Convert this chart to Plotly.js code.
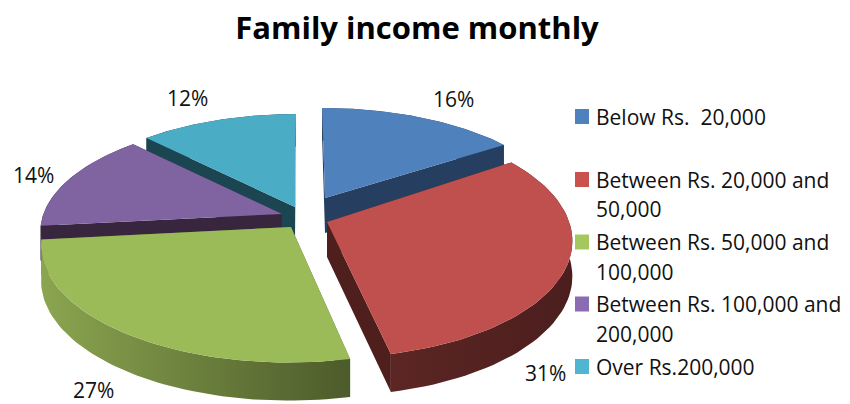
<!DOCTYPE html>
<html>
<head>
<meta charset="utf-8">
<script src="https://cdn.plot.ly/plotly-3.0.0.min.js"></script>
<style>html,body{margin:0;padding:0;background:#fff}</style>
</head>
<body>
<div id="PlotDiv" style="width:850px;height:404px"></div>
<script>
var categories = ['Below Rs. 20,000', 'Between Rs. 20,000 and 50,000', 'Between Rs. 50,000 and 100,000',
  'Between Rs. 100,000 and 200,000', 'Over Rs.200,000'];
// the labels show them rounded
var shares = [15.6, 31.0, 26.7, 14.4, 12.3];
var legendLines = [['Below Rs.  20,000'], ['Between Rs. 20,000 and', '50,000'], ['Between Rs. 50,000 and', '100,000'],
  ['Between Rs. 100,000 and', '200,000'], ['Over Rs.200,000']];

var topColors = ['#4f81bd', '#c0504d', '#9bbb59', '#8064a2', '#4bacc6'];
var swatchColors = ['#4f81bd', '#c9524f', '#a5c85e', '#8a6cb0', '#4fb5d0'];
var wallColors = ['#263f60', '#4f1f1e', '#4e5e2c', '#38263f', '#1c4552'];
var rimFrom = ['#263f60', '#5c2624', '#8ba550', '#38263f', '#1c4552'];
var rimTo = ['#263f60', '#4b1e1d', '#4c5b2a', '#38263f', '#1c4552'];

// fake 3d: tilted disc with a bit of perspective, pixels on the hidden axes
var apexX = [325, 327, 291, 282, 295];
var apexY = [198, 222, 227, 214, 207];
var scaleA = [0.975, 1.005, 1.025, 0.99, 0.98];
var scaleB = [0.9, 1.01, 1.01, 0.94, 0.93];
var A = 241, B = 114.6, K = 0.146, VPX = 303, DEPTH = 35;
var drawOrder = [4, 0, 3, 1, 2];

function project(i, th) {
  var u = Math.sin(th), v = Math.cos(th), w = 1 + K * v;
  return {
    x: apexX[i] + (A * scaleA[i] * u + (VPX - apexX[i]) * K * v) / w,
    y: apexY[i] - B * scaleB[i] * v / w,
    d: DEPTH / (1 + 0.08 * v)
  };
}

var total = shares.reduce(function (a, b) { return a + b; }, 0);
var angles = [0];
for (var i = 0; i < shares.length; i++) {
  angles.push(angles[i] + shares[i] / total * 2 * Math.PI);
}

function poly(xs, ys, name, color) {
  return { type: 'scatter', mode: 'lines', x: xs, y: ys, fill: 'toself', fillcolor: color,
    line: { width: 0 }, name: name, hoverinfo: 'name', showlegend: false };
}

var traces = [];
drawOrder.forEach(function (i) {
  var arc = [];
  for (var n = 0; n <= 60; n++) {
    arc.push(project(i, angles[i] + (angles[i + 1] - angles[i]) * n / 60));
  }
  var first = arc[0], last = arc[60];
  var ax = apexX[i], ay = apexY[i];

  // radial faces
  [first, last].forEach(function (p) {
    traces.push(poly([ax, p.x, p.x, ax, ax], [ay, p.y, p.y + p.d, ay + DEPTH, ay], categories[i], wallColors[i]));
  });

  // outer rim
  var rx = [], ry = [];
  arc.forEach(function (p) { rx.push(p.x); ry.push(p.y); });
  arc.slice().reverse().forEach(function (p) { rx.push(p.x); ry.push(p.y + p.d); });
  var rim = poly(rx, ry, categories[i], wallColors[i]);
  rim.fillgradient = { type: 'horizontal', colorscale: [[0, rimFrom[i]], [1, rimTo[i]]] };
  traces.push(rim);

  // top
  var tx = [ax], ty = [ay];
  arc.forEach(function (p) { tx.push(p.x); ty.push(p.y); });
  tx.push(ax); ty.push(ay);
  traces.push(poly(tx, ty, categories[i], topColors[i]));
});

var FONT = '"Open Sans", sans-serif';
var annotations = [], shapes = [];
var labelX = [453, 545, 93, 33, 187];
var labelY = [99, 373, 389.5, 175, 98];
shares.forEach(function (s, i) {
  annotations.push({ x: labelX[i], y: labelY[i], xref: 'x', yref: 'y', text: Math.round(s) + '%', showarrow: false,
    xanchor: 'center', yanchor: 'middle', font: { family: FONT, size: 21, color: '#111' } });
});

var legendY = [116.5, 179.5, 242, 304, 366.5];
legendLines.forEach(function (lines, i) {
  shapes.push({ type: 'rect', xref: 'x', yref: 'y', x0: 575, x1: 589, y0: legendY[i] - 7.5, y1: legendY[i] + 7.5,
    fillcolor: swatchColors[i], line: { width: 0 } });
  lines.forEach(function (t, n) {
    annotations.push({ x: 594, y: legendY[i] + n * 29.5, xref: 'x', yref: 'y', text: t, showarrow: false,
      xanchor: 'left', yanchor: 'middle', font: { family: FONT, size: 21, color: '#111' } });
  });
});

var layout = {
  width: 850,
  height: 404,
  margin: { l: 0, r: 0, t: 0, b: 0 },
  paper_bgcolor: '#fff',
  plot_bgcolor: '#fff',
  showlegend: false,
  title: { text: '<b>Family income monthly</b>', x: 417 / 850, xanchor: 'center', y: 1 - 28 / 404, yanchor: 'middle',
    font: { family: FONT, size: 31, color: '#000' } },
  xaxis: { range: [0, 850], visible: false, fixedrange: true },
  yaxis: { range: [404, 0], visible: false, fixedrange: true },
  annotations: annotations,
  shapes: shapes
};

Plotly.newPlot('PlotDiv', traces, layout, { displayModeBar: false });
</script>
</body>
</html>
